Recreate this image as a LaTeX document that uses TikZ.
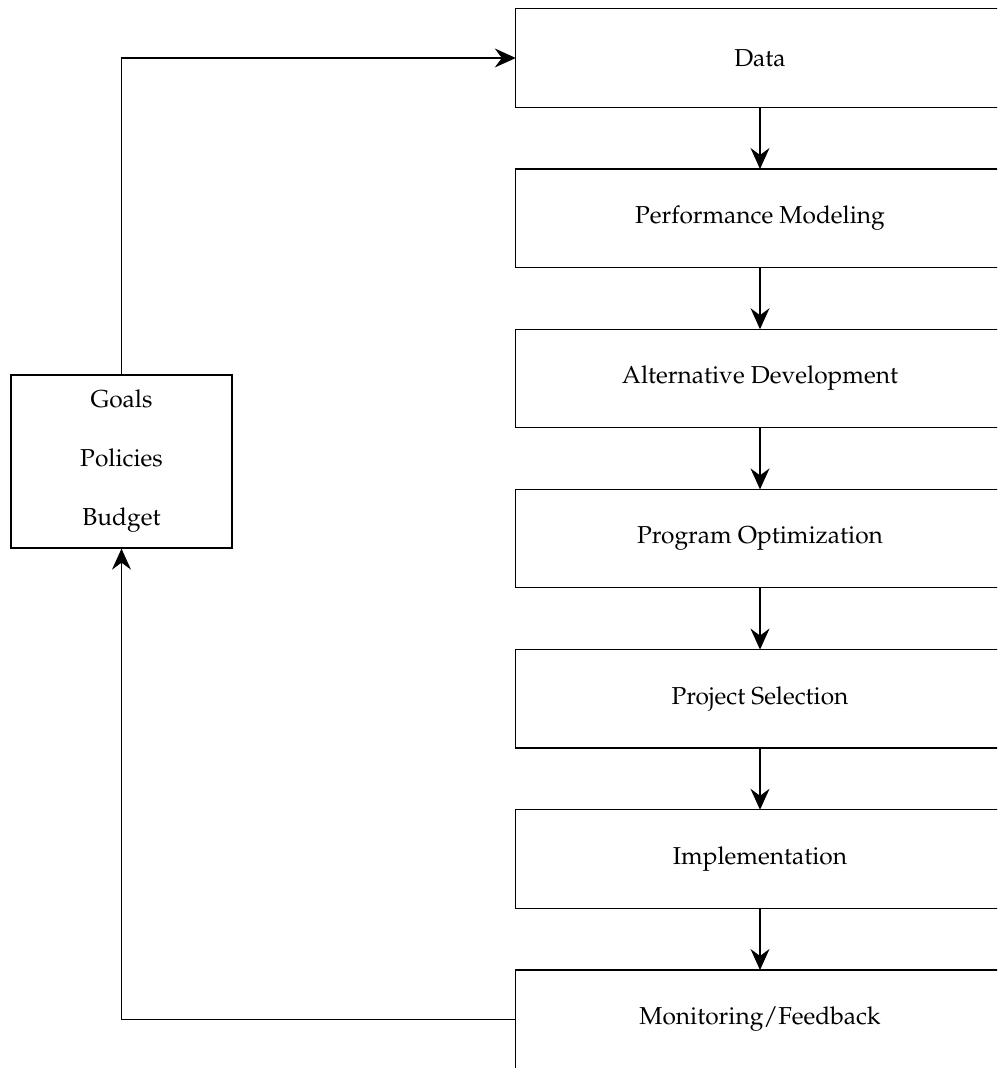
\documentclass[tikz,border=0pt]{standalone}
\usepackage[T1]{fontenc}
\usepackage{mathpazo}
\usepackage{tikz}
\usetikzlibrary{arrows.meta}

\begin{document}
\begin{tikzpicture}[x=1pt,y=1pt,>={Stealth[length=21pt,width=19pt,inset=7pt]},
    % boxes run off the right edge of the page, so only three sides are drawn
    stage/.style={minimum width=488pt,minimum height=98pt,inner sep=0pt,
      font=\fontsize{24.5}{30}\selectfont,
      append after command={\pgfextra{\draw[line width=1.3pt]
        ([xshift=80pt]\tikzlastnode.north east) -- (\tikzlastnode.north west)
        -- (\tikzlastnode.south west) -- ([xshift=80pt]\tikzlastnode.south east);}}},
    goalbox/.style={draw,line width=1.3pt,minimum width=221pt,minimum height=173pt,
      inner sep=0pt,align=center,font=\fontsize{24.5}{59}\selectfont}]
  \useasboundingbox (0,0) rectangle (997,1068);
  \clip (0,0) rectangle (997,1068);
  \node[stage] (data) at (760,1010) {Data};
  \node[stage] (perf) at (760,849.8) {Performance Modeling};
  \node[stage] (alt) at (760,689.6) {Alternative Development};
  \node[stage] (opt) at (760,529.4) {Program Optimization};
  \node[stage] (sel) at (760,369.2) {Project Selection};
  \node[stage] (impl) at (760,209) {Implementation};
  \node[stage] (mon) at (760,48.8) {Monitoring/Feedback};
  \node[goalbox] (goals) at (121.5,606.5) {Goals\\Policies\\Budget};
  \draw[line width=1.3pt,->] (data) -- (perf);
  \draw[line width=1.3pt,->] (perf) -- (alt);
  \draw[line width=1.3pt,->] (alt) -- (opt);
  \draw[line width=1.3pt,->] (opt) -- (sel);
  \draw[line width=1.3pt,->] (sel) -- (impl);
  \draw[line width=1.3pt,->] (impl) -- (mon);
  \draw[line width=1.3pt,->] (goals.north) |- (data.west);
  \draw[line width=1.3pt,->] (mon.west) -| (goals.south);
\end{tikzpicture}
\end{document}
